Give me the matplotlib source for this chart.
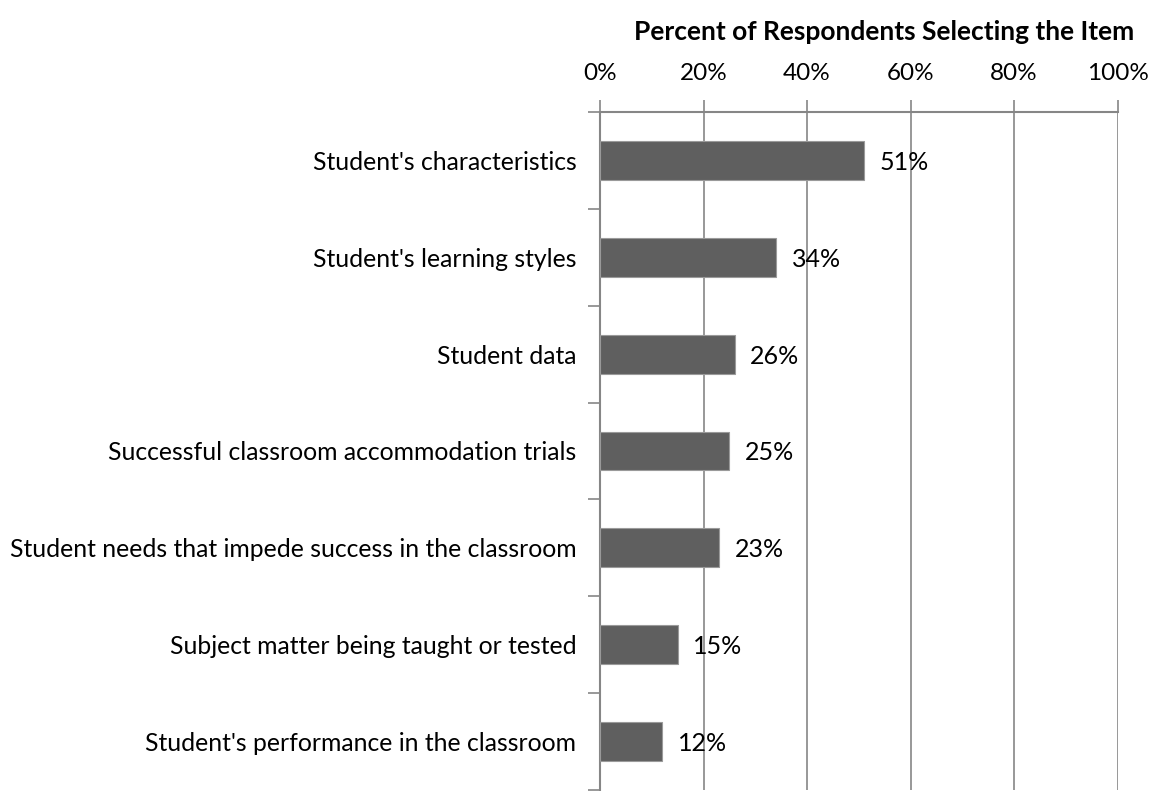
import numpy as np
import matplotlib.pyplot as plt

items = [
    "Student's characteristics",
    "Student's learning styles",
    "Student data",
    "Successful classroom accommodation trials",
    "Student needs that impede success in the classroom",
    "Subject matter being taught or tested",
    "Student's performance in the classroom",
]
pct = [51, 34, 26, 25, 23, 15, 12]
xticks = [0, 20, 40, 60, 80, 100]

plt.rcParams['font.family'] = ['Lato', 'DejaVu Sans']
axis_col = "#868686"

fig = plt.figure(figsize=(11.54, 7.91), dpi=100)
ax = fig.add_axes([600 / 1154, 1 - 790 / 791, 517.5 / 1154, 678 / 791])

y = np.arange(len(items))
ax.barh(y, pct, height=0.4, color="#5f5f5f", edgecolor="#9a9a9a", linewidth=0.8, zorder=3)
for yi, v in zip(y, pct):
    ax.text(v + 3, yi + 0.02, f"{v}%", va="center", ha="left", fontsize=18, zorder=4)

ax.set_xlim(0, 100)
ax.set_ylim(len(items) - 0.5, -0.5)
ax.xaxis.tick_top()
ax.set_xticks(xticks)
ax.set_xticklabels([f"{t}%" for t in xticks], fontsize=17.5)
ax.tick_params(axis="x", direction="out", length=9, width=1.2, color=axis_col, pad=11)
ax.grid(axis="x", color=axis_col, linewidth=1.2, zorder=0)

ax.set_yticks(y)
ax.set_yticklabels(items, fontsize=17.8)
ax.set_yticks(np.arange(len(items) + 1) - 0.5, minor=True)
ax.tick_params(axis="y", which="major", length=0, pad=17)
ax.tick_params(axis="y", which="minor", direction="out", length=9, width=1.2, color=axis_col)

for s in ["right", "bottom"]:
    ax.spines[s].set_visible(False)
for s in ["left", "top"]:
    ax.spines[s].set_color(axis_col)
    ax.spines[s].set_linewidth(1.5)

fig.text(884 / 1154, 1 - 32 / 791, "Percent of Respondents Selecting the Item",
         ha="center", va="center", fontsize=19, fontweight="bold")

fig.savefig("out.png", dpi=100)
